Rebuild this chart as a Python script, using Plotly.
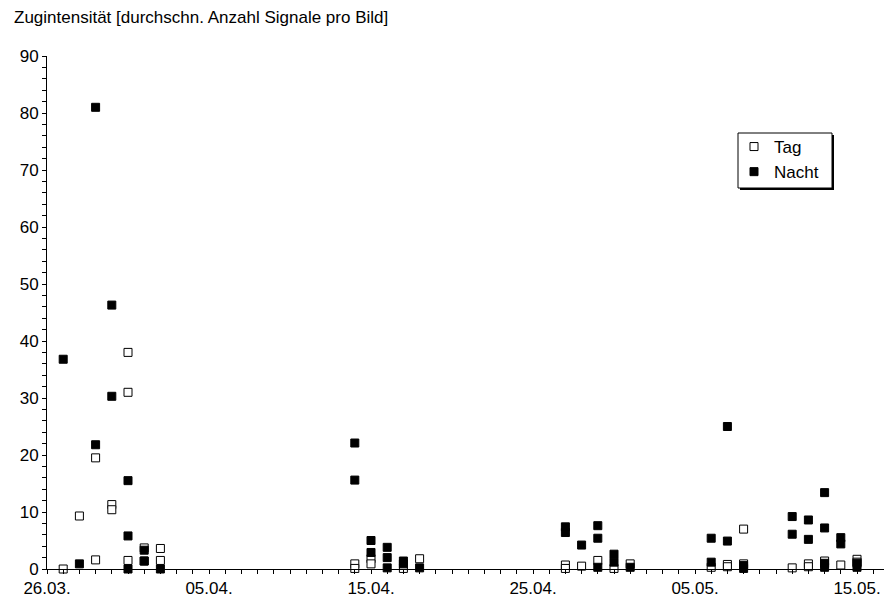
import plotly.graph_objects as go

YEAR = 2003

# Daytime observations (date "dd.mm.", mean signal count per image)
tag_days = ["27.03.", "28.03.", "29.03.", "29.03.", "30.03.", "30.03.",
            "31.03.", "31.03.", "31.03.", "01.04.", "01.04.", "02.04.", "02.04.",
            "14.04.", "14.04.", "15.04.", "15.04.", "17.04.", "18.04.",
            "27.04.", "27.04.", "28.04.", "29.04.", "30.04.", "01.05.",
            "06.05.", "07.05.", "07.05.", "08.05.", "08.05.",
            "11.05.", "12.05.", "12.05.", "13.05.", "14.05.", "15.05.", "15.05."]
tag_values = [0.0, 9.3, 19.5, 1.6, 11.3, 10.4,
              38.0, 31.0, 1.5, 3.7, 1.4, 3.6, 1.5,
              0.9, 0.1, 1.8, 0.9, 0.1, 1.8,
              0.7, 0.1, 0.5, 1.5, 0.1, 0.9,
              0.3, 0.8, 0.4, 7.0, 0.9,
              0.2, 0.9, 0.4, 1.4, 0.7, 1.7, 1.2]

# Night-time observations
nacht_days = ["27.03.", "28.03.", "29.03.", "29.03.", "30.03.", "30.03.",
              "31.03.", "31.03.", "31.03.", "01.04.", "01.04.", "02.04.",
              "14.04.", "14.04.", "15.04.", "15.04.", "16.04.", "16.04.", "16.04.",
              "17.04.", "17.04.", "18.04.",
              "27.04.", "27.04.", "28.04.", "29.04.", "29.04.", "29.04.",
              "30.04.", "30.04.", "01.05.",
              "06.05.", "06.05.", "07.05.", "07.05.", "08.05.", "08.05.",
              "11.05.", "11.05.", "12.05.", "12.05.",
              "13.05.", "13.05.", "13.05.", "13.05.", "14.05.", "14.05.",
              "15.05.", "15.05."]
nacht_values = [36.8, 0.9, 81.0, 21.8, 46.3, 30.3,
                15.5, 5.8, 0.0, 3.3, 1.4, 0.0,
                22.1, 15.6, 5.0, 2.9, 3.8, 2.0, 0.2,
                1.4, 0.9, 0.2,
                7.4, 6.4, 4.2, 7.6, 5.4, 0.3,
                2.6, 1.2, 0.3,
                5.4, 1.2, 25.0, 4.9, 0.6, 0.1,
                9.2, 6.1, 8.6, 5.2,
                13.4, 7.2, 1.0, 0.3, 5.5, 4.4,
                1.0, 0.3]

axis_start = "26.03."
axis_end = "16.05."
y_label = "Zugintensität [durchschn. Anzahl Signale pro Bild]"


def iso(dm, hour=0):
    d, m = dm.strip(".").split(".")
    return f"{YEAR}-{m}-{d} {hour:02d}:00"


FONT = dict(family="Arial, Liberation Sans, sans-serif", size=17, color="black")

fig = go.Figure()
fig.add_trace(go.Scatter(
    x=[iso(d) for d in tag_days], y=tag_values, name="Tag", mode="markers",
    marker=dict(symbol="square", size=8, color="white",
                line=dict(color="black", width=1)),
    cliponaxis=False,
))
fig.add_trace(go.Scatter(
    x=[iso(d) for d in nacht_days], y=nacht_values, name="Nacht", mode="markers",
    marker=dict(symbol="square", size=8, color="black",
                line=dict(color="black", width=1)),
    cliponaxis=False,
))

W, H = 885, 605
L, R, T, B = 47, 1, 56, 36
pw, ph = W - L - R, H - T - B

# legend frame in pixels, converted to paper coordinates
box_left, box_top, box_w, box_h = 738, 133, 94, 55
px = lambda x: (x - L) / pw
py = lambda y: (H - B - y) / ph

fig.update_layout(
    width=W, height=H,
    margin=dict(l=L, r=R, t=T, b=B),
    paper_bgcolor="white", plot_bgcolor="white",
    font=FONT,
    showlegend=True,
    legend=dict(x=px(box_left - 4), y=py(box_top - 4), xanchor="left", yanchor="top",
                bgcolor="rgba(0,0,0,0)", borderwidth=0,
                font=FONT, tracegroupgap=0),
    xaxis=dict(
        type="date",
        range=[iso(axis_start), iso(axis_end, 16)],
        tick0=iso(axis_start), dtick=10 * 86400000,
        tickformat="%d.%m.",
        ticks="outside", ticklen=4, tickcolor="black", tickwidth=1,
        minor=dict(dtick=86400000, ticks="outside", ticklen=4,
                   tickcolor="black", tickwidth=1, showgrid=False),
        showline=True, linecolor="black", linewidth=1,
        showgrid=False, zeroline=False,
        tickfont=FONT,
    ),
    yaxis=dict(
        range=[0, 90], dtick=10, tick0=0,
        ticks="outside", ticklen=4, tickcolor="black", tickwidth=1,
        minor=dict(dtick=2, ticks="outside", ticklen=4,
                   tickcolor="black", tickwidth=1, showgrid=False),
        showline=True, linecolor="black", linewidth=1,
        showgrid=False, zeroline=False,
        tickfont=FONT,
    ),
    annotations=[dict(
        text=y_label, xref="paper", yref="paper",
        x=px(12), y=py(18), xanchor="left", yanchor="middle",
        showarrow=False, font=FONT,
    )],
    shapes=[
        # drop shadow of the legend frame
        dict(type="rect", xref="paper", yref="paper", layer="above",
             x0=px(box_left + 2), x1=px(box_left + box_w + 2),
             y0=py(box_top + box_h + 2), y1=py(box_top + 2),
             fillcolor="black", line=dict(width=0)),
        # legend frame
        dict(type="rect", xref="paper", yref="paper", layer="above",
             x0=px(box_left), x1=px(box_left + box_w),
             y0=py(box_top + box_h), y1=py(box_top),
             fillcolor="white", line=dict(color="black", width=1)),
    ],
)

fig.write_html("out.html")
